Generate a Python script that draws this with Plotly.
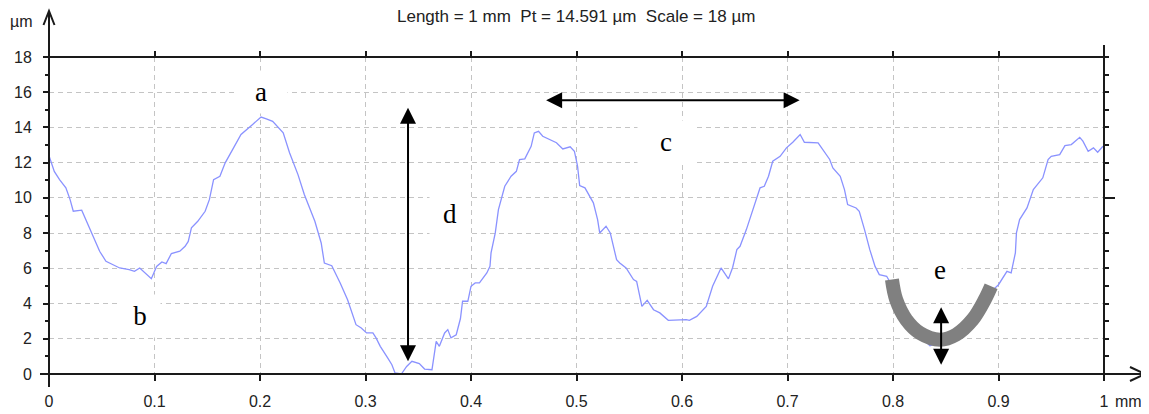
import plotly.graph_objects as go

# ---- data ----
profile_x = [0.000, 0.005, 0.010, 0.016, 0.020, 0.023, 0.031, 0.035, 0.042, 0.048,
             0.054, 0.061, 0.067, 0.076, 0.081, 0.086, 0.091, 0.097, 0.102, 0.107,
             0.111, 0.116, 0.124, 0.129, 0.132, 0.135, 0.141, 0.148, 0.152, 0.156,
             0.162, 0.167, 0.174, 0.182, 0.193, 0.201, 0.206, 0.212, 0.222, 0.228,
             0.236, 0.242, 0.252, 0.258, 0.261, 0.268, 0.276, 0.283, 0.291, 0.296,
             0.301, 0.307, 0.310, 0.314, 0.321, 0.325, 0.328, 0.334, 0.339, 0.344,
             0.351, 0.356, 0.363, 0.364, 0.367, 0.370, 0.375, 0.378, 0.381, 0.386,
             0.390, 0.392, 0.397, 0.400, 0.404, 0.408, 0.415, 0.418, 0.419, 0.423,
             0.426, 0.432, 0.438, 0.443, 0.446, 0.451, 0.457, 0.460, 0.464, 0.468,
             0.475, 0.481, 0.487, 0.494, 0.498, 0.501, 0.503, 0.508, 0.516, 0.520,
             0.522, 0.528, 0.532, 0.538, 0.541, 0.547, 0.554, 0.557, 0.560, 0.562,
             0.567, 0.573, 0.579, 0.587, 0.604, 0.607, 0.614, 0.623, 0.629, 0.637,
             0.644, 0.648, 0.652, 0.655, 0.661, 0.671, 0.674, 0.678, 0.682, 0.686,
             0.693, 0.699, 0.705, 0.712, 0.716, 0.729, 0.735, 0.740, 0.743, 0.750,
             0.754, 0.757, 0.765, 0.768, 0.773, 0.778, 0.783, 0.787, 0.794, 0.800,
             0.810, 0.820, 0.830, 0.835, 0.845, 0.855, 0.865, 0.875, 0.885, 0.895,
             0.900, 0.908, 0.912, 0.916, 0.917, 0.920, 0.927, 0.933, 0.942, 0.947,
             0.950, 0.958, 0.963, 0.969, 0.977, 0.980, 0.985, 0.990, 0.994, 0.999]
profile_y = [12.40, 11.50, 11.04, 10.57, 9.90, 9.24, 9.30, 8.77, 7.82, 6.97,
             6.40, 6.17, 6.02, 5.93, 5.83, 6.02, 5.74, 5.41, 6.11, 6.36,
             6.27, 6.84, 6.97, 7.25, 7.53, 8.30, 8.67, 9.24, 9.90, 11.04,
             11.23, 11.99, 12.74, 13.60, 14.17, 14.59, 14.49, 14.35, 13.69, 12.56,
             11.32, 10.19, 8.67, 7.44, 6.30, 6.15, 5.17, 4.22, 2.80, 2.61,
             2.33, 2.33, 2.05, 1.57, 0.91, 0.53, 0.06, 0.00, 0.43, 0.72,
             0.59, 0.28, 0.24, 0.62, 1.85, 1.57, 2.33, 2.52, 2.05, 2.23,
             3.15, 4.13, 4.13, 4.98, 5.17, 5.17, 5.74, 6.11, 6.88, 8.01,
             9.33, 10.66, 11.23, 11.51, 12.18, 12.22, 12.93, 13.69, 13.78, 13.50,
             13.31, 13.13, 12.78, 12.90, 12.65, 11.80, 10.70, 10.57, 9.72, 8.77,
             8.01, 8.39, 8.01, 6.49, 6.30, 6.02, 5.36, 5.26, 4.41, 3.84,
             4.18, 3.65, 3.47, 3.05, 3.09, 3.05, 3.27, 3.84, 4.98, 6.02,
             5.40, 6.05, 7.06, 7.25, 8.20, 10.09, 10.57, 10.66, 11.23, 12.08,
             12.36, 12.84, 13.16, 13.60, 13.16, 13.13, 12.65, 12.18, 11.70, 11.23,
             10.47, 9.62, 9.43, 9.24, 8.20, 7.06, 6.11, 5.64, 5.55, 4.90,
             3.90, 2.80, 1.90, 1.60, 1.80, 2.30, 2.60, 3.20, 4.00, 4.79,
             5.07, 5.83, 5.74, 6.88, 8.01, 8.77, 9.43, 10.47, 11.14, 12.18,
             12.36, 12.46, 12.97, 13.03, 13.44, 13.22, 12.65, 12.84, 12.59, 12.93]

# grey "U" highlighting the valley (e)
valley_x = [0.799, 0.803, 0.8125, 0.8255, 0.8445, 0.8597, 0.8755, 0.887, 0.893]
valley_y = [5.36, 4.22, 3.09, 2.33, 1.95, 2.23, 3.09, 4.22, 4.98]

x_ticks = [0, 0.1, 0.2, 0.3, 0.4, 0.5, 0.6, 0.7, 0.8, 0.9, 1.0]
x_tick_text = ["0", "0.1", "0.2", "0.3", "0.4", "0.5", "0.6", "0.7", "0.8", "0.9", "1"]
y_ticks = [0, 2, 4, 6, 8, 10, 12, 14, 16, 18]
y_tick_text = ["0", "2", "4", "6", "8", "10", "12", "14", "16", "18"]

label_text = ["a", "b", "c", "d", "e"]
label_x = [0.2007, 0.086, 0.585, 0.3798, 0.8446]
label_y = [16.0, 3.3, 13.2, 9.1, 5.9]

# double arrows: (x_start, y_start, x_end, y_end)
arrow_c = (0.4698, 15.55, 0.7115, 15.55)
arrow_d = (0.3403, 15.2, 0.3403, 0.72)
arrow_e = (0.8456, 3.88, 0.8456, 0.53)

title_text = "Length = 1 mm  Pt = 14.591 µm  Scale = 18 µm"

# ---- figure ----
# the page body has an 8px margin, so the figure is offset by 8px in the window
OFF = 8
W, H = 1149 - OFF, 414 - OFF
L, R, T, B = 41, 45, 49, 40
PW, PH = W - L - R, H - T - B


def px(xr):
    """window x pixel (reference) -> paper coordinate"""
    return (xr - OFF - L) / PW


def py(yr):
    """window y pixel (reference) -> paper coordinate"""
    return (H - B - (yr - OFF)) / PH


AXC = "#1a1a1a"
GRID = "#c4c4c4"
SANS = "Liberation Sans, Arial, sans-serif"
SERIF = "Liberation Serif, Times New Roman, serif"

fig = go.Figure()
fig.add_trace(go.Scatter(x=profile_x, y=profile_y, mode="lines",
                         line=dict(color="#8a92ff", width=1.3),
                         hoverinfo="skip", showlegend=False))
fig.add_trace(go.Scatter(x=valley_x, y=valley_y, mode="lines",
                         line=dict(color="#808080", width=14, shape="spline"),
                         xaxis="x2", yaxis="y2",
                         hoverinfo="skip", showlegend=False))

fig.update_layout(
    width=W, height=H, autosize=False,
    margin=dict(l=L, r=R, t=T, b=B, pad=0, autoexpand=False),
    paper_bgcolor="white", plot_bgcolor="white",
    showlegend=False,
    xaxis=dict(range=[0, 1], tickmode="array", tickvals=x_ticks, ticktext=x_tick_text,
               ticks="outside", ticklen=6, tickwidth=1.5, tickcolor=AXC,
               showgrid=True, gridcolor=GRID, gridwidth=1, griddash="5px,4px",
               zeroline=False, showline=False, fixedrange=True, automargin=False,
               tickfont=dict(family=SANS, size=16, color="#222"),
               ticklabelstandoff=7),
    yaxis=dict(range=[0, 18], tickmode="array", tickvals=y_ticks, ticktext=y_tick_text,
               ticks="outside", ticklen=5, tickwidth=1.5, tickcolor=AXC,
               minor=dict(ticks="outside", ticklen=3, tickwidth=1.5, tickcolor=AXC,
                          tickmode="linear", tick0=1, dtick=2, showgrid=False),
               showgrid=True, gridcolor=GRID, gridwidth=1, griddash="5px,4px",
               zeroline=False, showline=False, fixedrange=True, automargin=False,
               tickfont=dict(family=SANS, size=16, color="#222"),
               ticklabelstandoff=8),
    xaxis2=dict(range=[0, 1], overlaying="x", side="top", tickmode="array",
                tickvals=x_ticks[1:-1], ticks="outside", ticklen=5, tickwidth=1.5,
                tickcolor=AXC, showticklabels=False, showgrid=False, zeroline=False,
                showline=False, fixedrange=True, automargin=False),
    yaxis2=dict(range=[0, 18], overlaying="y", side="right", tickmode="array",
                tickvals=[10], ticks="outside", ticklen=10, tickwidth=1.5, tickcolor=AXC,
                minor=dict(ticks="outside", ticklen=4, tickwidth=1.5, tickcolor=AXC,
                           tickmode="linear", tick0=0, dtick=1, showgrid=False),
                showticklabels=False, showgrid=False, zeroline=False, showline=False,
                fixedrange=True, automargin=False),
)

# axis frame lines (extended as in the reference)
shapes = [
    # left axis (with arrow head at top)
    dict(type="line", xref="paper", yref="paper", x0=px(49), x1=px(49), y0=py(387), y1=py(11)),
    dict(type="path", xref="paper", yref="paper",
         path=f"M {px(43.5)},{py(25)} L {px(49)},{py(11)} L {px(54.5)},{py(25)}"),
    # bottom axis (with arrow head at right)
    dict(type="line", xref="paper", yref="paper", x0=px(40), x1=px(1144), y0=0, y1=0),
    dict(type="path", xref="paper", yref="paper",
         path=f"M {px(1130)},{py(367)} L {px(1145)},{py(374)} L {px(1130)},{py(381)}"),
    # top line at 18
    dict(type="line", xref="paper", yref="paper", x0=px(46), x1=1, y0=1, y1=1),
    # right axis
    dict(type="line", xref="paper", yref="paper", x0=1, x1=1, y0=0, y1=py(45)),
]
for s in shapes:
    s["line"] = dict(color=AXC, width=2)
    s["layer"] = "above"
fig.update_layout(shapes=shapes)

ann = []
ann.append(dict(text=title_text, xref="paper", yref="paper", x=px(576), y=py(17),
                showarrow=False, font=dict(family=SANS, size=17, color="#222"),
                xanchor="center", yanchor="middle"))
ann.append(dict(text="µm", xref="paper", yref="paper", x=px(21), y=py(21),
                showarrow=False, font=dict(family=SANS, size=16, color="#222"),
                xanchor="center", yanchor="middle"))
ann.append(dict(text="mm", xref="paper", yref="paper", x=px(1128), y=py(401),
                showarrow=False, font=dict(family=SANS, size=16, color="#222"),
                xanchor="center", yanchor="middle"))

box_w = {"a": 50, "b": 38, "c": 54, "d": 38, "e": 40}
for t, lx, ly in zip(label_text, label_x, label_y):
    ann.append(dict(text=t, x=lx, y=ly, xref="x", yref="y", showarrow=False,
                    font=dict(family=SERIF, size=27, color="black"),
                    bgcolor="white", width=box_w[t], height=40,
                    xanchor="center", yanchor="middle"))

for (x0, y0, x1, y1) in (arrow_c, arrow_d, arrow_e):
    ann.append(dict(text="", x=x1, y=y1, ax=x0, ay=y0, xref="x", yref="y",
                    axref="x", ayref="y", showarrow=True, arrowside="end+start",
                    arrowhead=2, startarrowhead=2, arrowsize=1.6, startarrowsize=1.6,
                    arrowwidth=2, arrowcolor="black", standoff=0, startstandoff=0))
fig.update_layout(annotations=ann)

fig.write_html("out.html")
